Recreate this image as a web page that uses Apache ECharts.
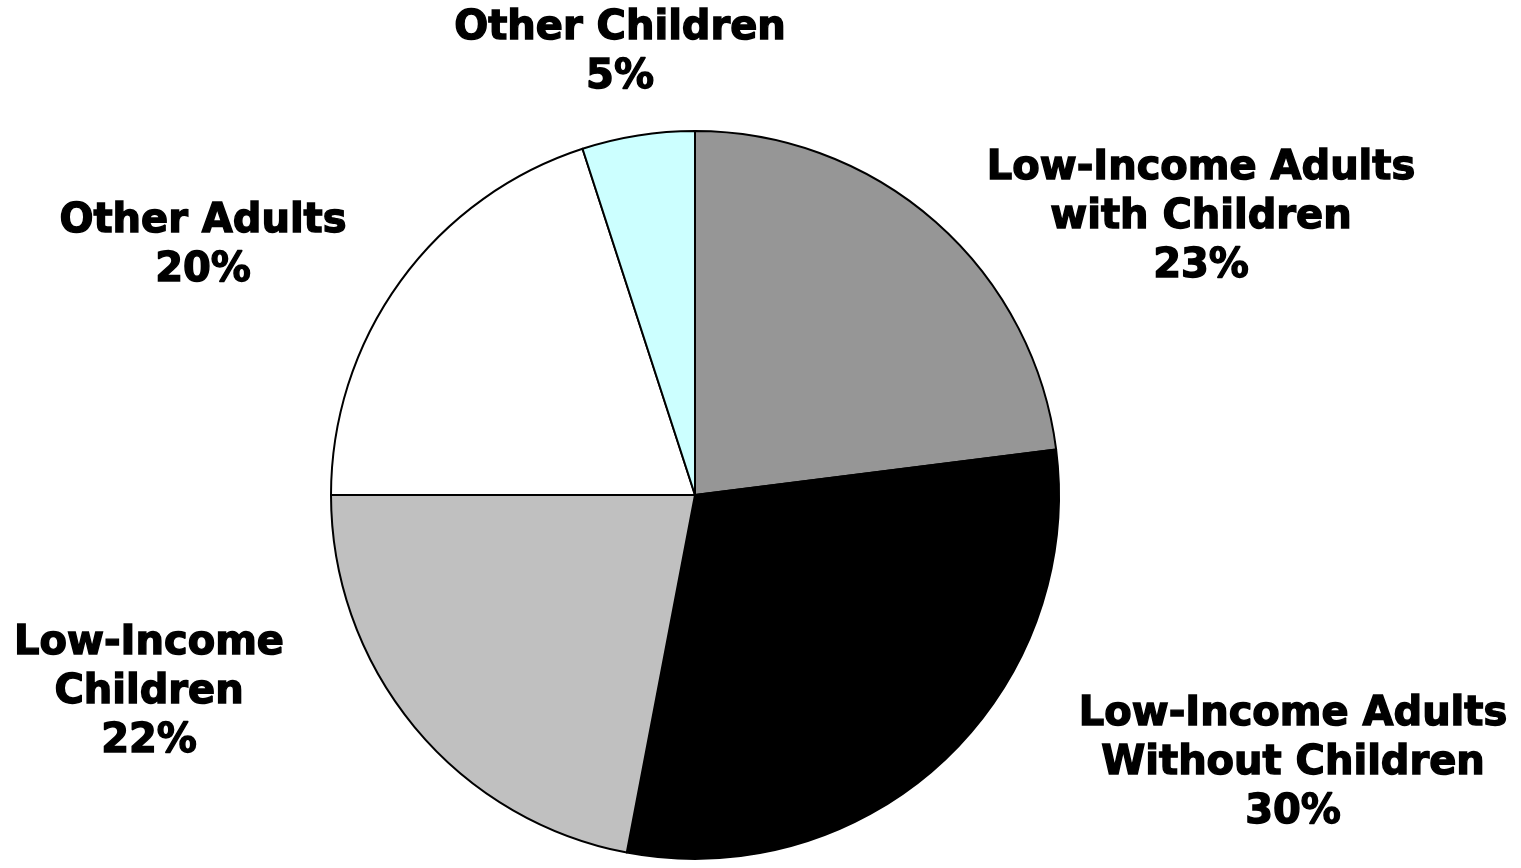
<!DOCTYPE html>
<html><head><meta charset="utf-8">
<script src="https://cdn.jsdelivr.net/npm/echarts@6/dist/echarts.min.js"></script>
<style>html,body{margin:0;padding:0;background:#fff}#c{width:1521px;height:868px}</style>
</head><body><div id="c"></div>
<script>
const categories = ['Low-Income Adults\nwith Children', 'Low-Income Adults\nWithout Children', 'Low-Income\nChildren', 'Other Adults', 'Other Children'];
const values = [23, 30, 22, 20, 5];
const colors = ['#969696', '#000000', '#C0C0C0', '#FFFFFF', '#CCFFFF'];
const labelPos = [[1201, 218], [1293, 764], [149, 693], [203, 246], [620, 53]];

const chart = echarts.init(document.getElementById('c'), null, {renderer: 'canvas'});
chart.setOption({
  animation: false,
  series: [{
    type: 'pie',
    center: [695, 495],
    radius: 364,
    startAngle: 90,
    clockwise: true,
    data: categories.map((n, i) => ({name: n, value: values[i], itemStyle: {color: colors[i]}})),
    itemStyle: {borderColor: '#000', borderWidth: 2},
    label: {
      show: true,
      position: 'outside',
      formatter: p => p.name + '\n' + p.value + '%',
      color: '#000',
      fontFamily: 'DejaVu Sans',
      fontWeight: 'bold',
      fontSize: 40,
      lineHeight: 49,
      align: 'center',
      textBorderColor: '#000',
      textBorderWidth: 1.4
    },
    labelLine: {show: false},
    labelLayout: p => ({x: labelPos[p.dataIndex][0], y: labelPos[p.dataIndex][1], align: 'center', verticalAlign: 'middle'}),
    emphasis: {disabled: true}
  }]
});
</script></body></html>
